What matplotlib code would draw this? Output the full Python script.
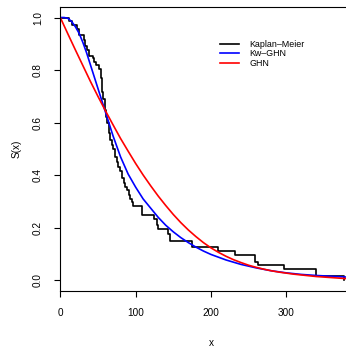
import matplotlib
matplotlib.use("Agg")
import matplotlib.pyplot as plt

# Kaplan-Meier step estimate (time, survival after the step)
km_time = [0, 12, 15, 22, 25, 31, 33, 35, 38, 43, 45, 48, 52, 54, 55, 56, 57, 59, 61, 62,
           64, 66, 68, 70, 72, 75, 77, 79, 82, 84, 86, 88, 91, 93, 95, 97, 108, 124, 128, 130,
           143, 146, 175, 210, 232, 258, 262, 297, 340, 376]
km_surv = [1.0, 0.985, 0.97, 0.955, 0.935, 0.915, 0.89, 0.875, 0.855, 0.845,
           0.83, 0.82, 0.805, 0.77, 0.74, 0.715, 0.69, 0.65, 0.62, 0.6,
           0.56, 0.535, 0.515, 0.5, 0.47, 0.45, 0.43, 0.415, 0.39, 0.37,
           0.355, 0.345, 0.325, 0.31, 0.3, 0.285, 0.25, 0.235, 0.21, 0.195,
           0.175, 0.152, 0.127, 0.113, 0.098, 0.072, 0.06, 0.043, 0.017, 0.0]

# fitted Kw-GHN survival curve
kw_x = [0, 5, 10, 15, 20, 25, 30, 35, 40, 45, 50, 55, 60, 65, 70, 75, 80, 90, 100, 110,
        120, 130, 140, 150, 160, 170, 180, 190, 200, 220, 240, 260, 280, 300, 320, 340, 360, 380, 400]
kw_s = [1.0, 1.0, 0.997, 0.985, 0.965, 0.94, 0.905, 0.865, 0.82, 0.775,
        0.73, 0.685, 0.64, 0.595, 0.55, 0.51, 0.47, 0.405, 0.355, 0.31,
        0.275, 0.24, 0.21, 0.185, 0.163, 0.144, 0.127, 0.112, 0.099, 0.078,
        0.061, 0.048, 0.037, 0.029, 0.023, 0.019, 0.016, 0.013, 0.011]

# fitted GHN survival curve
ghn_x = [0, 10, 20, 30, 40, 50, 60, 70, 80, 90, 100, 110, 120, 130, 140, 150, 160, 170, 180, 190,
         200, 210, 220, 230, 240, 250, 260, 270, 280, 290, 300, 310, 320, 330, 340, 350, 360, 370, 380, 390, 400]
ghn_s = [1.0, 0.938, 0.877, 0.817, 0.757, 0.70, 0.645, 0.592, 0.54, 0.492,
         0.445, 0.401, 0.36, 0.321, 0.285, 0.251, 0.22, 0.192, 0.167, 0.144,
         0.124, 0.107, 0.092, 0.079, 0.068, 0.058, 0.05, 0.043, 0.037, 0.032,
         0.028, 0.024, 0.021, 0.018, 0.015, 0.013, 0.011, 0.009, 0.007, 0.006, 0.005]

x_ticks = [0, 100, 200, 300]
y_ticks = [0.0, 0.2, 0.4, 0.6, 0.8, 1.0]

plt.rcParams['font.family'] = ['Liberation Sans', 'DejaVu Sans']

fig = plt.figure(figsize=(3.46, 3.5), dpi=100)
ax = fig.add_axes([60.3 / 346, 1 - 291 / 350, 301.3 / 346, 284 / 350])

ax.step(km_time, km_surv, where='post', color='black', lw=1.2, label='Kaplan\u2013Meier')
ax.plot(kw_x, kw_s, color='#0000FF', lw=1.2, label='Kw\u2013GHN')
ax.plot(ghn_x, ghn_s, color='#FF0000', lw=1.2, label='GHN')

ax.set_xlim(0, 400)
ax.set_ylim(-0.04, 1.04)
ax.set_xticks(x_ticks)
ax.set_yticks(y_ticks)
ax.set_xticklabels([str(t) for t in x_ticks])
ax.set_yticklabels(['%.1f' % t for t in y_ticks], rotation=90, va='center')
ax.tick_params(axis='both', direction='out', length=4.5, width=0.8, labelsize=7.2)
ax.tick_params(axis='x', pad=8)
ax.tick_params(axis='y', pad=8)
for side in ['top', 'left', 'bottom', 'right']:
    ax.spines[side].set_linewidth(0.8)

ax.set_xlabel('x', fontsize=7.2, labelpad=14)
ax.set_ylabel('S(x)', fontsize=7.2, labelpad=8)

ax.legend(loc='upper left', bbox_to_anchor=(220 / 346, 1 - 40 / 350), bbox_transform=fig.transFigure,
          frameon=False, fontsize=6.4, handlelength=2.1, handletextpad=1.2,
          labelspacing=0.05, borderpad=0, borderaxespad=0)

fig.savefig('out.png', dpi=100)
